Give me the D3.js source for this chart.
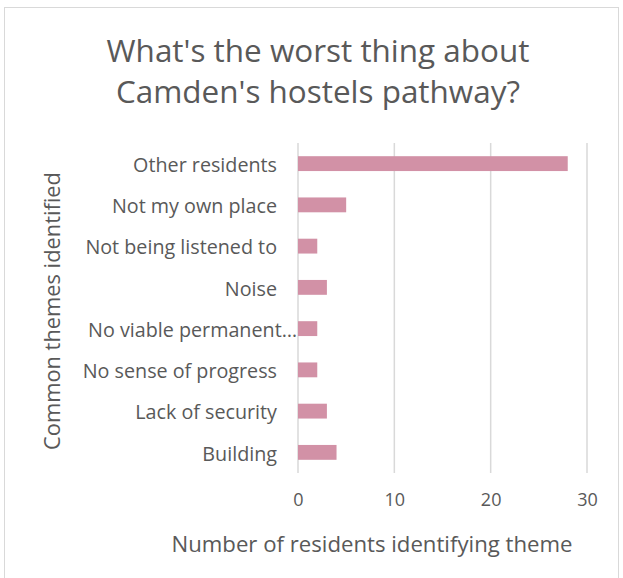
<!DOCTYPE html>
<html><head><meta charset="utf-8">
<script src="https://cdn.jsdelivr.net/npm/d3@7"></script>
<style>
html,body{margin:0;padding:0;background:#fff;}
text{font-family:"Open Sans","Lato",sans-serif;fill:#595959;}
</style></head>
<body>
<svg id="c" width="623" height="578"></svg>
<script>
const categories = ["Other residents","Not my own place","Not being listened to","Noise","No viable permanent…","No sense of progress","Lack of security","Building"];
const values = [28,5,2,3,2,2,3,4];
const tickValues = [0,10,20,30];
const titleLines = ["What's the worst thing about","Camden's hostels pathway?"];
const xTitle = "Number of residents identifying theme";
const yTitle = "Common themes identified";

const svg = d3.select("#c");
svg.append("rect").attr("x",4.5).attr("y",7.5).attr("width",614).attr("height",575)
  .attr("fill","#fff").attr("stroke","#d9d9d9");

const x = d3.scaleLinear().domain([0,30]).range([298,587]);
const y = d3.scaleBand().domain(categories).range([143,473]).paddingInner(0.64).paddingOuter(0.32);

function fit(sel, target){
  sel.each(function(){
    const fs = parseFloat(this.style.fontSize);
    const w = this.getComputedTextLength();
    this.style.fontSize = (fs*target/w).toFixed(2)+"px";
  });
}

svg.append("g").selectAll("line").data(tickValues).join("line")
  .attr("x1",d=>x(d)).attr("x2",d=>x(d)).attr("y1",143).attr("y2",473)
  .attr("stroke","#d9d9d9").attr("stroke-width",1.5);

svg.append("g").selectAll("rect").data(categories).join("rect")
  .attr("x",x(0)).attr("y",d=>y(d)).attr("height",y.bandwidth())
  .attr("width",(d,i)=>x(values[i])-x(0)).attr("fill","#d291a6");

const ya = svg.append("g").attr("transform",`translate(${x(0)},0)`).call(d3.axisLeft(y).tickSize(0).tickPadding(21));
ya.select(".domain").remove();
ya.selectAll("text").style("font-size","17px").attr("fill","#595959").attr("dy","0.42em");
fit(ya.selectAll("text").filter(d=>d==="Other residents"),144);
const labFs = ya.selectAll("text").filter(d=>d==="Other residents").style("font-size");
ya.selectAll("text").style("font-size",labFs);
ya.selectAll("text").filter(d=>d.endsWith("…")).attr("x",-1);

const xa = svg.append("g").attr("transform","translate(0,473)").call(d3.axisBottom(x).tickValues(tickValues).tickSize(0).tickPadding(20));
xa.select(".domain").remove();
xa.selectAll("text").style("font-size","18px").attr("fill","#595959");

const tt = svg.append("g").selectAll("text").data(titleLines).join("text")
  .attr("x",318).attr("y",(d,i)=>62+i*41).attr("text-anchor","middle")
  .style("font-size","30px").text(d=>d);
fit(tt.filter((d,i)=>i===0),423);
tt.style("font-size",tt.filter((d,i)=>i===0).style("font-size"));

const xt = svg.append("text").attr("x",372).attr("y",552).attr("text-anchor","middle")
  .style("font-size","19px").text(xTitle);
fit(xt,401);

const yt = svg.append("text").attr("transform","translate(52,311) rotate(-90)").attr("text-anchor","middle")
  .attr("dy","0.35em").style("font-size","19px").text(yTitle);
fit(yt,278);
</script>
</body></html>
